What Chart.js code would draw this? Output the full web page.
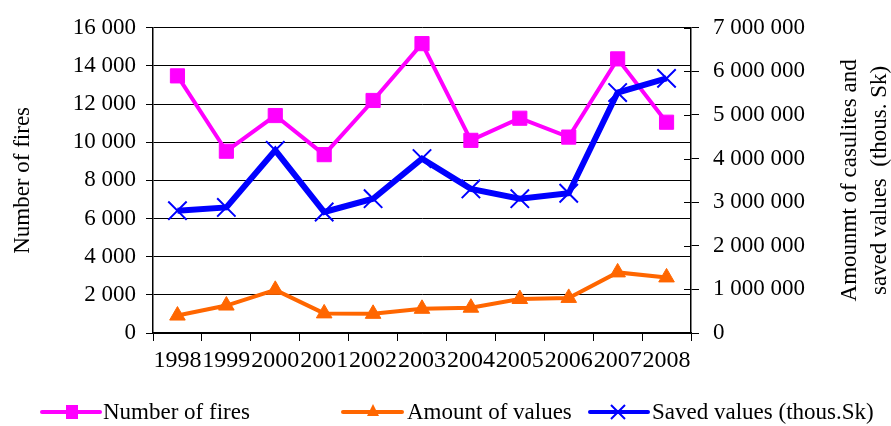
<!DOCTYPE html>
<html>
<head>
<meta charset="utf-8">
<script src="https://cdn.jsdelivr.net/npm/chart.js@4/dist/chart.umd.min.js"></script>
<style>
html,body{margin:0;padding:0;background:#fff;}
#wrap{width:891px;height:426px;position:relative;}
</style>
</head>
<body>
<div id="wrap"><canvas id="c" width="891" height="426"></canvas></div>
<script>
const years = ['1998','1999','2000','2001','2002','2003','2004','2005','2006','2007','2008'];
const numberOfFires = [13480, 9530, 11400, 9350, 12190, 15170, 10100, 11260, 10270, 14370, 11050];
const amountOfValues = [400000, 630000, 990000, 450000, 440000, 555000, 580000, 780000, 805000, 1390000, 1275000];
const savedValues = [2805000, 2880000, 4190000, 2775000, 3080000, 4000000, 3305000, 3080000, 3205000, 5515000, 5840000];
const seriesNames = ['Number of fires', 'Amount of values', 'Saved values (thous.Sk)'];
const leftTitle = 'Number of fires';
const rightTitle = ['Amounmt of casulites and', 'saved values  (thous. Sk)'];

const PINK = '#ff00ff', ORANGE = '#ff6600', BLUE = '#0000ff';
const FONT = '"Liberation Serif", "Times New Roman", serif';

function fmt(v){ return String(v).replace(/\B(?=(\d{3})+(?!\d))/g, ' '); }

const CA = {left:153, right:691, top:25, bottom:333};

const extras = {
  id:'extras',
  afterDraw(chart){
    const ctx = chart.ctx;
    ctx.save();
    // inner half of right-axis crossing ticks
    const y2 = chart.scales.y2;
    ctx.strokeStyle = '#000';
    ctx.lineWidth = 1;
    y2.ticks.forEach(t=>{
      const py = Math.round(y2.getPixelForValue(t.value)) + 0.5;
      ctx.beginPath(); ctx.moveTo(y2.left - 7, py); ctx.lineTo(y2.left, py); ctx.stroke();
    });
    ctx.fillStyle = '#000';
    ctx.font = '23px ' + FONT;
    ctx.textAlign = 'center';
    ctx.textBaseline = 'middle';
    const cy = (chart.chartArea.top + chart.chartArea.bottom)/2;
    // left title
    ctx.save();
    ctx.translate(23, cy);
    ctx.rotate(-Math.PI/2);
    ctx.fillText(leftTitle, 0, 0);
    ctx.restore();
    // right title
    ctx.save();
    ctx.translate(850, cy);
    ctx.rotate(-Math.PI/2);
    ctx.fillText(rightTitle[0], 0, 0);
    ctx.fillText(rightTitle[1], 0, 30);
    ctx.restore();
    // legend
    const ly = 412;
    const items = [
      {x1:42, x2:100, mx:72, tx:103, color:PINK},
      {x1:343, x2:402, mx:373, tx:407, color:ORANGE},
      {x1:590, x2:648, mx:618, tx:652, color:BLUE}
    ];
    items.forEach((it,i)=>{
      ctx.strokeStyle = it.color;
      ctx.lineWidth = 4;
      ctx.lineCap = 'round';
      ctx.beginPath(); ctx.moveTo(it.x1, ly); ctx.lineTo(it.x2, ly); ctx.stroke();
      ctx.fillStyle = it.color;
      if (i===0){ ctx.fillRect(it.mx-6, ly-7, 12, 14); }
      else if (i===1){ ctx.beginPath(); ctx.moveTo(it.mx, ly-8); ctx.lineTo(it.mx+6, ly+4); ctx.lineTo(it.mx-6, ly+4); ctx.closePath(); ctx.fill(); }
      else { ctx.lineWidth=2; ctx.lineCap='butt'; ctx.beginPath(); ctx.moveTo(it.mx-7, ly-7); ctx.lineTo(it.mx+7, ly+7); ctx.moveTo(it.mx+7, ly-7); ctx.lineTo(it.mx-7, ly+7); ctx.stroke(); }
      ctx.fillStyle = '#000';
      ctx.textAlign = 'left';
      ctx.fillText(seriesNames[i], it.tx, ly+1);
    });
    ctx.restore();
  }
};

new Chart(document.getElementById('c'), {
  type:'line',
  data:{
    labels: years,
    datasets:[
      {label:seriesNames[0], data:numberOfFires, yAxisID:'y', borderColor:PINK, backgroundColor:PINK, borderWidth:4,
       pointStyle:'rect', pointRadius:10, pointBorderWidth:1, pointBackgroundColor:PINK, pointBorderColor:PINK, tension:0, order:3},
      {label:seriesNames[1], data:amountOfValues, yAxisID:'y2', borderColor:ORANGE, backgroundColor:ORANGE, borderWidth:4,
       pointStyle:'triangle', pointRadius:9, pointBorderWidth:1, pointBackgroundColor:ORANGE, pointBorderColor:ORANGE, tension:0, order:2},
      {label:seriesNames[2], data:savedValues, yAxisID:'y2', borderColor:BLUE, backgroundColor:BLUE, borderWidth:6,
       pointStyle:'crossRot', pointRadius:13, pointBorderWidth:2, pointBackgroundColor:BLUE, pointBorderColor:BLUE, tension:0, order:1}
    ]
  },
  options:{
    responsive:false,
    animation:false,
    devicePixelRatio:1,
    layout:{padding:{top:CA.top, left:0, right:0, bottom:0}},
    plugins:{legend:{display:false}, tooltip:{enabled:false}},
    scales:{
      x:{
        offset:true,
        grid:{offset:true, drawOnChartArea:false, color:'#000', tickLength:8, lineWidth:1},
        border:{color:'#000', width:1.5},
        ticks:{color:'#000', font:{family:FONT, size:24}, autoSkip:false, maxRotation:0, minRotation:0, padding:5},
        afterFit(s){ s.height = 426 - CA.bottom; }
      },
      y:{
        position:'left', min:0, max:16000,
        ticks:{stepSize:2000, color:'#000', font:{family:FONT, size:23}, padding:10, callback:v=>fmt(v)},
        grid:{color:'#000', lineWidth:1, tickLength:7},
        border:{color:'#000', width:1.5},
        afterFit(s){ s.width = CA.left; }
      },
      y2:{
        position:'right', min:0, max:7000000,
        ticks:{stepSize:1000000, color:'#000', font:{family:FONT, size:23}, padding:14, callback:v=>fmt(v)},
        grid:{drawOnChartArea:false, color:'#000', tickLength:8},
        border:{color:'#000', width:1.5},
        afterFit(s){ s.width = 891 - CA.right; }
      }
    }
  },
  plugins:[extras]
});
</script>
</body>
</html>
